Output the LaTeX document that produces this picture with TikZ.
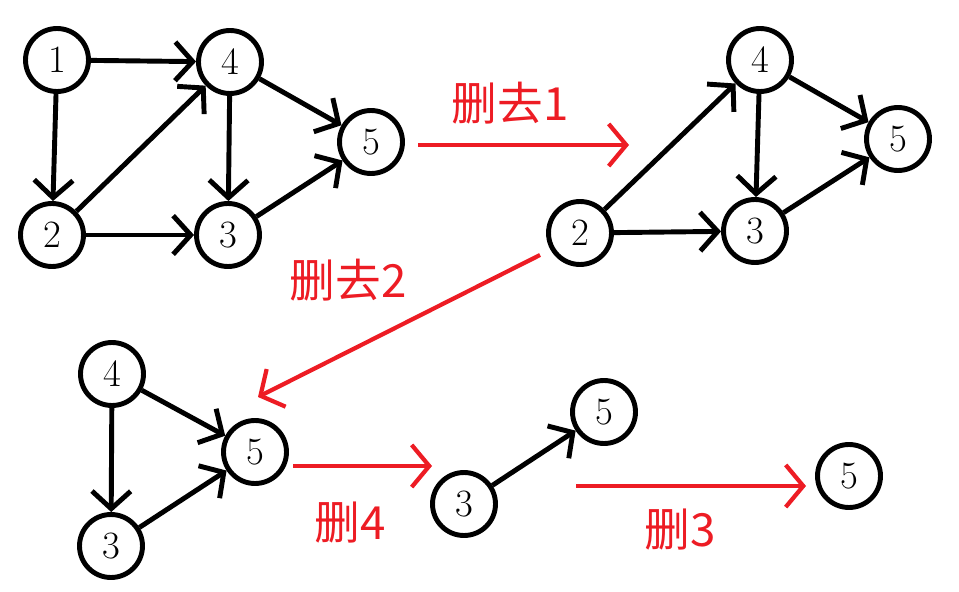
\documentclass[tikz,border=0pt]{standalone}
\usepackage{fontspec}
\newfontfamily\cjk{Noto Sans CJK SC}
\usetikzlibrary{arrows.meta}
\definecolor{paintred}{RGB}{237,28,36}

\begin{document}
\begin{tikzpicture}[x=0.02cm,y=-0.02cm]
        \useasboundingbox (0,0) rectangle (959,591);

        \begin{scope}[every node/.style={circle,draw,line width=2.8pt,minimum size=1.26cm,inner sep=0pt,font=\fontsize{22}{22}\selectfont}]
          % before
          \node (a1) at (57,60)   {1};
          \node (a4) at (230,62)  {4};
          \node (a5) at (371,142) {5};
          \node (a2) at (52,235)  {2};
          \node (a3) at (228,235) {3};
          % 1 gone
          \node (b4) at (760,60)  {4};
          \node (b5) at (898,139) {5};
          \node (b2) at (580,233) {2};
          \node (b3) at (755,231) {3};
          % 2 gone
          \node (c4) at (112,374) {4};
          \node (c5) at (255,452) {5};
          \node (c3) at (111,546) {3};
          % 4 gone
          \node (d5) at (604,412) {5};
          \node (d3) at (464,504) {3};
          % 3 gone
          \node (e5) at (849,476) {5};
        \end{scope}

        \begin{scope}[every edge/.style={draw,line width=2.8pt,-{Straight Barb[length=10pt,width=22pt]}}]
          \path (a1) edge (a4);
          \path (a1) edge (a2);
          \path (a2) edge (a4);
          \path (a2) edge (a3);
          \path (a4) edge (a3);
          \path (a4) edge (a5);
          \path (a3) edge (a5);

          \path (b2) edge (b4);
          \path (b2) edge (b3);
          \path (b4) edge (b3);
          \path (b4) edge (b5);
          \path (b3) edge (b5);

          \path (c4) edge (c3);
          \path (c4) edge (c5);
          \path (c3) edge (c5);

          \path (d3) edge (d5);
        \end{scope}

        \begin{scope}[every node/.style={paintred,font=\cjk\fontsize{26}{26}\selectfont},
                      every edge/.style={draw,paintred,line width=2.4pt,-{Straight Barb[length=10pt,width=24pt]}}]
          \coordinate (s1) at (418,145);
          \coordinate (t1) at (629,145);
          \coordinate (s2) at (540,255);
          \coordinate (t2) at (258,397);
          \coordinate (s3) at (293,466);
          \coordinate (t3) at (432,466);
          \coordinate (s4) at (576,486);
          \coordinate (t4) at (806,486);

          \path (s1) edge (t1);
          \path (s2) edge (t2);
          \path (s3) edge (t3);
          \path (s4) edge (t4);

          \node (del1) at (510,103) {删去1};
          \node (del2) at (348,280) {删去2};
          \node (del4) at (350,523) {删4};
          \node (del3) at (680,530) {删3};
        \end{scope}

\end{tikzpicture}
\end{document}
